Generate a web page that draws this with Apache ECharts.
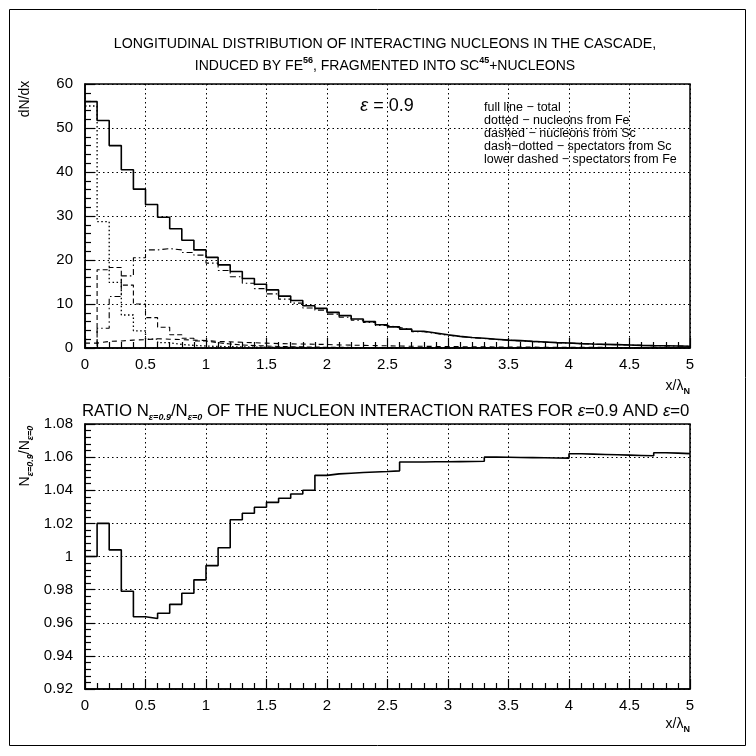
<!DOCTYPE html>
<html>
<head>
<meta charset="utf-8">
<script src="https://cdn.jsdelivr.net/npm/echarts@6/dist/echarts.min.js"></script>
<style>
html,body{margin:0;padding:0;background:#fff}
#chart{width:756px;height:756px}
</style>
</head>
<body>
<div id="chart"></div>
<script>
// 50 bins of width 0.1 in x/lambda_N
const binWidth = 0.1;
const nBins = 50;

// upper plot, dN/dx
const total  = [56.0,51.7,46.0,40.5,36.1,32.6,29.7,27.1,24.5,22.3,
                20.6,18.9,17.4,15.8,14.5,13.2,11.8,10.8,9.6,9.0,
                8.1,7.35,6.6,6.0,5.3,4.8,4.3,3.8,3.4,3.0,
                2.65,2.4,2.2,2.0,1.8,1.67,1.5,1.36,1.22,1.14,
                1.0,0.9,0.83,0.76,0.68,0.6,0.53,0.5,0.45,0.4];
const fromFe = [55.0,28.7,14.9,7.5,3.9,2.0,1.2,0.8,0.6,0.45,
                0.35,0.3,0.25,0.2,0.18,0.15,0.13,0.11,0.1,0.09,
                0.08,0.08,0.07,0.07,0.06,0.06,0.05,0.05,0.05,0.04,
                0.04,0.04,0.03,0.03,0.03,0.03,0.03,0.02,0.02,0.02,
                0.02,0.02,0.02,0.02,0.02,0.01,0.01,0.01,0.01,0.01];
const fromSc = [0,17.8,18.3,14.3,10.0,6.9,4.7,3.0,2.2,1.6,
                1.2,0.9,0.7,0.55,0.45,0.35,0.3,0.25,0.2,0.18,
                0.15,0.13,0.11,0.1,0.09,0.08,0.07,0.06,0.05,0.05,
                0.04,0.04,0.04,0.03,0.03,0.03,0.03,0.02,0.02,0.02,
                0.02,0.02,0.02,0.02,0.01,0.01,0.01,0.01,0.01,0.01];
const specSc = [0,4.5,11.7,16.4,20.5,22.3,22.6,22.3,21.7,21.1,
                19.3,17.6,16.2,14.7,13.5,12.3,11.1,10.2,9.1,8.6,
                7.7,7.0,6.3,5.8,5.1,4.65,4.2,3.7,3.3,2.9,
                2.58,2.34,2.15,1.95,1.76,1.63,1.47,1.33,1.2,1.12,
                0.98,0.88,0.81,0.74,0.67,0.59,0.52,0.49,0.44,0.39];
const specFe = [1.1,1.5,1.6,1.8,1.9,2.1,2.0,1.9,1.8,1.7,
                1.5,1.4,1.3,1.2,1.1,1.0,0.95,0.9,0.85,0.8,
                0.7,0.65,0.6,0.55,0.5,0.45,0.4,0.38,0.35,0.32,
                0.3,0.28,0.26,0.24,0.22,0.2,0.19,0.18,0.17,0.16,
                0.15,0.14,0.13,0.12,0.11,0.1,0.1,0.09,0.09,0.08];

// lower plot, ratio eps=0.9 / eps=0
const ratio = [1.000,1.020,1.004,0.979,0.9636,0.9626,0.9657,0.9711,0.9778,0.9859,
               0.9945,1.0053,1.0222,1.0261,1.0297,1.0327,1.0352,1.0377,1.0400,1.0490,
               1.0499,1.0503,1.0507,1.0510,1.0513,1.0517,1.0571,1.0571,1.0572,1.0572,
               1.0573,1.0574,1.0575,1.0600,1.0599,1.0598,1.0597,1.0596,1.0595,1.0594,
               1.0620,1.0618,1.0616,1.0614,1.0612,1.0610,1.0608,1.0626,1.0624,1.0621];

const FONT = 'Liberation Sans, Arial, sans-serif';

function histo(vals) {
  const pts = vals.map((v, i) => [+(i * binWidth).toFixed(2), v]);
  pts.push([+(nBins * binWidth).toFixed(2), vals[vals.length - 1]]);
  return pts;
}

function xAxisCfg(gi) {
  return {
    gridIndex: gi, type: 'value', min: 0, max: 5, interval: 0.5,
    axisLine: {onZero: false, lineStyle: {color: '#000', width: 1.5}},
    axisTick: {inside: true, length: 10, lineStyle: {color: '#000', width: 1.2}},
    minorTick: {show: true, splitNumber: 5, length: 6, lineStyle: {color: '#000', width: 1.2}},
    splitLine: {show: true, lineStyle: {type: [1.5, 3], color: '#000', width: 1}},
    axisLabel: {fontSize: 15, color: '#000', fontFamily: FONT, margin: 9}
  };
}
function yAxisCfg(gi, min, max, iv) {
  return {
    gridIndex: gi, type: 'value', min: min, max: max, interval: iv,
    axisLine: {onZero: false, lineStyle: {color: '#000', width: 1.5}},
    axisTick: {inside: true, length: 10, lineStyle: {color: '#000', width: 1.2}},
    minorTick: {show: true, splitNumber: 5, length: 6, lineStyle: {color: '#000', width: 1.2}},
    splitLine: {show: true, lineStyle: {type: [1.5, 3], color: '#000', width: 1}},
    axisLabel: {fontSize: 15, color: '#000', fontFamily: FONT, margin: 12}
  };
}
function hline(data, gi, type, width, z) {
  return {
    type: 'line', xAxisIndex: gi, yAxisIndex: gi, step: 'end',
    data: data, symbol: 'none', z: z,
    lineStyle: {color: '#000', width: width, type: type}
  };
}

const rich = {
  t: {fontSize: 14, fontFamily: FONT, color: '#000', lineHeight: 20},
  sup: {fontSize: 9, fontFamily: FONT, color: '#000', verticalAlign: 'top', fontWeight: 'bold'},
  b: {fontSize: 16.8, fontFamily: FONT, color: '#000', lineHeight: 22},
  e: {fontSize: 16.8, fontFamily: FONT, color: '#000', fontStyle: 'italic', lineHeight: 22},
  sub: {fontSize: 9, fontFamily: FONT, color: '#000', verticalAlign: 'bottom', fontWeight: 'bold'},
  esub: {fontSize: 9, fontFamily: FONT, color: '#000', verticalAlign: 'bottom', fontStyle: 'italic', fontWeight: 'bold'}
};

const chart = echarts.init(document.getElementById('chart'));
chart.setOption({
  animation: false,
  backgroundColor: '#fff',
  grid: [
    {left: 85, top: 84, width: 605, height: 264, show: true, borderColor: '#000', borderWidth: 1.5},
    {left: 85, top: 424, width: 605, height: 265, show: true, borderColor: '#000', borderWidth: 1.5}
  ],
  xAxis: [xAxisCfg(0), xAxisCfg(1)],
  yAxis: [yAxisCfg(0, 0, 60, 10), yAxisCfg(1, 0.92, 1.08, 0.02)],
  series: [
    hline(histo(specFe), 0, [5, 4], 1.1, 2),
    hline(histo(fromSc), 0, [5, 3], 1.1, 3),
    hline(histo(fromFe), 0, [1.5, 2.5], 1.3, 3),
    hline(histo(specSc), 0, [6, 3, 1.5, 3], 1.1, 4),
    hline(histo(total), 0, 'solid', 1.6, 5),
    hline(histo(ratio), 1, 'solid', 1.6, 5)
  ],
  graphic: [
    {type: 'rect', shape: {x: 9.5, y: 9.5, width: 736, height: 736}, style: {fill: 'none', stroke: '#000', lineWidth: 1}},
    {type: 'text', x: 385, y: 44, style: {text: 'LONGITUDINAL DISTRIBUTION OF INTERACTING NUCLEONS IN THE CASCADE,', font: '14.2px ' + FONT, fill: '#000', align: 'center', verticalAlign: 'middle'}},
    {type: 'text', x: 385, y: 66, style: {
      text: '{t|INDUCED BY FE}{sup|56}{t|, FRAGMENTED INTO SC}{sup|45}{t|+NUCLEONS}',
      rich: rich, align: 'center', verticalAlign: 'middle'}},
    {type: 'text', x: 25, y: 99, rotation: Math.PI / 2, style: {text: 'dN/dx', font: '14px ' + FONT, fill: '#000', align: 'center', verticalAlign: 'middle'}},
    {type: 'text', x: 387, y: 106, style: {text: '{e|ε}{b| = 0.9}', rich: {e: {fontSize: 18, fontStyle: 'italic', fontFamily: FONT}, b: {fontSize: 18, fontFamily: FONT}}, align: 'center', verticalAlign: 'middle'}},
    {type: 'text', x: 484, y: 101, style: {
      text: 'full line − total\ndotted − nucleons from Fe\ndashed − nucleons from Sc\ndash−dotted − spectators from Sc\nlower dashed − spectators from Fe',
      font: '12.5px ' + FONT, fill: '#000', lineHeight: 13.1, align: 'left', verticalAlign: 'top'}},
    {type: 'text', x: 690, y: 386, style: {text: '{t|x/λ}{sub|N}', rich: rich, align: 'right', verticalAlign: 'middle'}},
    {type: 'text', x: 82, y: 411, style: {
      text: '{b|RATIO N}{esub|ε=0.9}{b|/N}{esub|ε=0}{b| OF THE NUCLEON INTERACTION RATES FOR }{e|ε}{b|=0.9 AND }{e|ε}{b|=0}',
      rich: rich, align: 'left', verticalAlign: 'middle'}},
    {type: 'text', x: 25, y: 456, rotation: Math.PI / 2, style: {
      text: '{t|N}{esub|ε=0.9}{t|/N}{esub|ε=0}', rich: rich, align: 'center', verticalAlign: 'middle'}},
    {type: 'text', x: 690, y: 724, style: {text: '{t|x/λ}{sub|N}', rich: rich, align: 'right', verticalAlign: 'middle'}}
  ]
});
</script>
</body>
</html>
